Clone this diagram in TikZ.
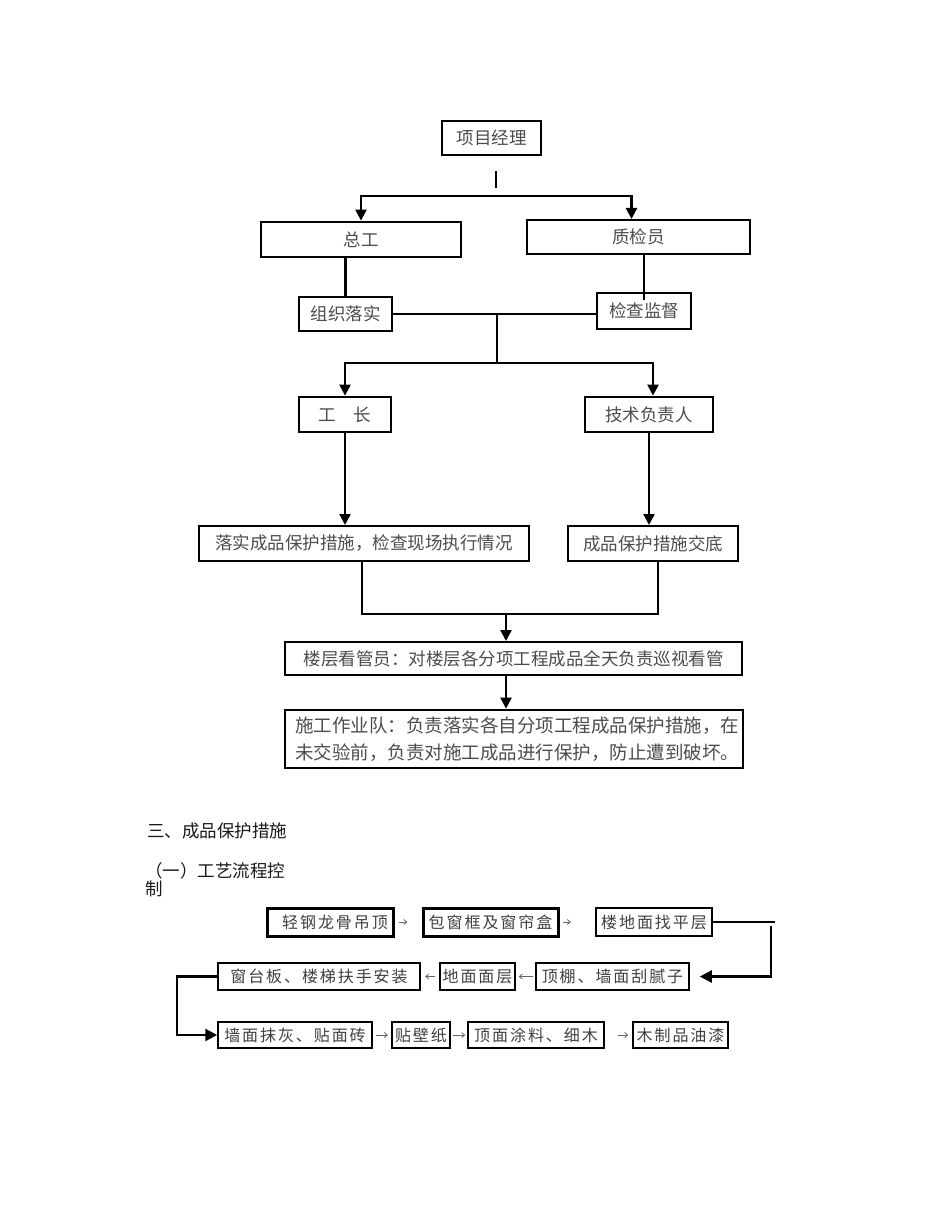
\documentclass[tikz,border=0pt]{standalone}
\usepackage{fontspec}
\newfontfamily\cjk{Noto Sans CJK SC}
\newfontfamily\cjkflow[LetterSpace=12]{Noto Sans CJK SC}
\usetikzlibrary{arrows.meta}

\tikzset{
    box/.style={draw, line width=2pt, inner sep=0pt, text=black!70,
        font=\cjk\fontsize{17.5}{21}\selectfont},
    thickbox/.style={box, line width=2.8pt},
    flowbox/.style={draw, line width=1.5pt, inner sep=0pt, text=black!75,
        font=\cjkflow\fontsize{16}{19}\selectfont},
    heavyflow/.style={flowbox, line width=3pt},
    conn/.style={line width=2.3pt},
    arr/.style={conn, -{Triangle[length=11pt,width=11pt]}},
    bigarr/.style={conn, -{Triangle[length=12pt,width=12pt]}},
    smallarr/.style={line width=0.8pt, black!60, -{Straight Barb[length=3pt,width=5pt]}},
}

\begin{document}
\begin{tikzpicture}[x=1pt, y=-1pt]

    % page
    \fill[white] (0,0) rectangle (950,1206);
    \useasboundingbox (0,0) rectangle (950,1206);

    % Define parameters
    \def\rowa{922}    % flow row 1
    \def\rowb{976.5}  % flow row 2
    \def\rowc{1035}   % flow row 3

    % organisation chart
    \node[box, minimum width=99pt, minimum height=34pt] (pm) at (491.5,138) {项目经理};
    \node[thickbox, minimum width=200pt, minimum height=35pt] (zg) at (361,239.5) {总工};
    \node[box, minimum width=223pt, minimum height=34pt] (zj) at (638.5,237) {质检员};
    \node[thickbox, minimum width=93pt, minimum height=34pt] (zz) at (345.5,314) {组织落实};
    \node[thickbox, minimum width=94pt, minimum height=36pt] (jc) at (644,311) {检查监督};
    \node[thickbox, minimum width=92pt, minimum height=35pt] (gz) at (345,414.5) {工\hspace{17.5pt}长};
    \node[thickbox, minimum width=128pt, minimum height=35pt] (js) at (649,414.5) {技术负责人};
    \node[box, minimum width=330pt, minimum height=35pt] (ls) at (364,543.5) {落实成品保护措施，检查现场执行情况};
    \node[box, minimum width=170pt, minimum height=35pt] (cb) at (653,543.5) {成品保护措施交底};
    \node[box, minimum width=457pt, minimum height=33pt] (lc) at (513.5,658.5) {楼层看管员：对楼层各分项工程成品全天负责巡视看管};
    \node[thickbox, text width=438pt, inner xsep=10pt, minimum height=58pt, align=left,
        font=\cjk\fontsize{18.5}{27}\selectfont] (sg) at (514,739)
        {施工作业队：负责落实各自分项工程成品保护措施，在\\未交验前，负责对施工成品进行保护，防止遭到破坏。};

    % split points
    \coordinate (tick) at (496,171);
    \coordinate (split1) at (496,196);
    \coordinate (m1) at (497,313);
    \coordinate (split2) at (497,363);
    \coordinate (m2) at (506,614);

    % connectors
    \draw[conn] (tick) -- ++(0,17);
    \draw[arr] (split1) -| (zg.north);
    \draw[arr] (split1) -| ([xshift=-7pt]zj.north);
    \draw[conn] (zz.north |- zg.south) -- (zz.north);
    \draw[conn] (jc.north |- zj.south) -- ([yshift=-8pt]jc.north);
    \draw[conn] (zz.east) -- (zz.east -| jc.west);
    \draw[conn] (m1) -- (split2);
    \draw[arr] (split2) -| (gz.north);
    \draw[arr] (split2) -| ([xshift=4pt]js.north);
    \draw[arr] (gz.south) -- (gz.south |- ls.north);
    \draw[arr] (js.south) -- (js.south |- cb.north);
    \draw[conn] ([xshift=-2pt]ls.south) |- ([xshift=5pt]cb.south |- m2) -- ([xshift=5pt]cb.south);
    \draw[arr] (m2) -- (m2 |- lc.north);
    \draw[arr] (lc.south -| m2) -- (m2 |- sg.north);

    % section titles
    \node[anchor=west, inner sep=0pt, text=black!90, font=\cjk\fontsize{17.5}{21}\selectfont]
        (sec) at (147,831) {三、成品保护措施};
    \node[anchor=north west, inner sep=0pt, align=left, text=black!90,
        font=\cjk\fontsize{17.5}{18.5}\selectfont] (sub) at (145,862) {（一）工艺流程控\\制};

    % process flow
    \node[heavyflow, minimum width=126pt, minimum height=28pt] (a1) at (330,\rowa) {\hspace{10pt}轻钢龙骨吊顶};
    \node[heavyflow, minimum width=135pt, minimum height=28pt] (a2) at (490.5,\rowa) {包窗框及窗帘盒};
    \node[flowbox, line width=2.2pt, minimum width=116pt, minimum height=28pt] (a3) at (654,\rowa) {楼地面找平层};
    \node[flowbox, minimum width=153pt, minimum height=27pt] (b1) at (612.5,\rowb) {顶棚、墙面刮腻子};
    \node[flowbox, minimum width=75pt, minimum height=27pt] (b2) at (477.5,\rowb) {地面面层};
    \node[flowbox, line width=2.4pt, minimum width=202pt, minimum height=27pt] (b3) at (319,\rowb) {窗台板、楼梯扶手安装\hspace{10pt}};
    \node[flowbox, minimum width=154pt, minimum height=26pt] (c1) at (295,\rowc) {墙面抹灰、贴面砖};
    \node[flowbox, line width=2.2pt, minimum width=58pt, minimum height=26pt] (c2) at (421,\rowc) {贴壁纸};
    \node[flowbox, minimum width=136pt, minimum height=26pt] (c3) at (536,\rowc) {顶面涂料、细木\hspace{8pt}};
    \node[flowbox, minimum width=95pt, minimum height=26pt] (c4) at (680.5,\rowc) {木制品油漆};

    % small arrows
    \draw[smallarr, shorten <=4pt, shorten >=14pt] (a1.east) -- (a2.west);
    \draw[smallarr, shorten <=3pt, shorten >=24pt] (a2.east) -- (a3.west);
    \draw[smallarr, shorten <=2pt, shorten >=3pt] (b1.west) -- (b2.east);
    \draw[smallarr, shorten <=4pt, shorten >=4pt] (b2.west) -- (b3.east);
    \draw[smallarr, shorten <=3pt, shorten >=3pt] (c1.east) -- (c2.west);
    \draw[smallarr, shorten <=2pt, shorten >=2pt] (c2.east) -- (c3.west);
    \draw[smallarr, shorten <=13pt, shorten >=4pt] (c3.east) -- (c4.west);

    % turns between rows
    \coordinate (r1) at (775,919);
    \coordinate (r2) at (771,926);
    \coordinate (l1) at (177,978);
    \draw[conn] (a3.east) -- (a3.east -| r1);
    \draw[bigarr, shorten >=10pt] (r2) |- (b1.east);
    \draw[bigarr] (b3.west) -- (b3.west -| l1) |- (c1.west);

\end{tikzpicture}
\end{document}
